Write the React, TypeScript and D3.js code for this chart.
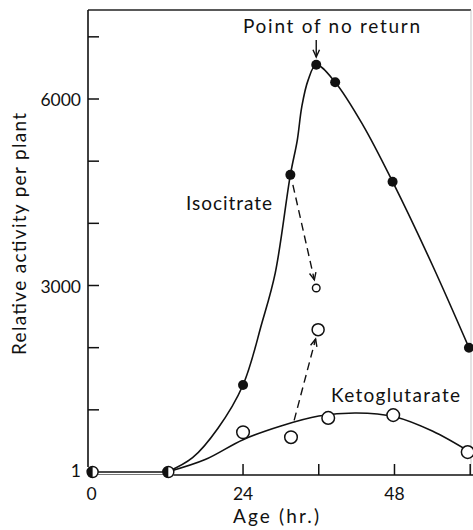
import React from "react";
import * as d3 from "d3";

// Age (hr.) and relative activity per plant
const baselineHours = [0, 12];
const baselineValues = [0, 0];

const isoHours = [24, 31.5, 35.6, 38.6, 47.7, 59.8];
const isoValues = [1400, 4780, 6550, 6270, 4670, 2000];

// smoothed isocitrate trend through the measured points
const isoFitHours = [12, 16, 20, 24, 27, 29.1, 31.5, 32.6, 33.3, 34.3, 35.6, 38.6, 43, 47.7, 54, 59.8];
const isoFitValues = [0, 230, 700, 1400, 2400, 3200, 4780, 5340, 5870, 6300, 6550, 6270, 5580, 4670, 3330, 2000];

const ketoHours = [24, 31.6, 37.5, 47.8, 59.6];
const ketoValues = [640, 560, 870, 915, 320];

// smoothed ketoglutarate trend
const ketoFitHours = [12, 18, 24, 30, 36, 42, 48, 54, 60];
const ketoFitValues = [0, 200, 520, 740, 900, 950, 890, 660, 320];

// transferred isocitrate activity
const transferHours = [35.6, 35.9];
const transferValues = [2960, 2290];

const yTickValues = [1000, 2000, 3000, 4000, 5000, 6000, 7000];
const yTickLabels = ["3000", "6000"];
const xTickValues = [24, 36, 48, 60];
const xTickLabels = ["24", "48"];

const W = 473;
const H = 530;
const FONT = "Lato, 'Open Sans', sans-serif";

export default function App() {
  const x = d3.scaleLinear().domain([0, 60]).range([91.6, 470.2]);
  const y = d3.scaleLinear().domain([0, 6000]).range([472, 99]);
  const axisY = 475;
  const leftX = 88;
  const topY = 10;
  const rightX = 471;

  const line = d3
    .line<[number, number]>()
    .x((d) => x(d[0]))
    .y((d) => y(d[1]))
    .curve(d3.curveCatmullRom.alpha(0.5));

  const isoPath = line(
    isoFitHours.map((h, i) => [h, isoFitValues[i]] as [number, number])
  );
  const ketoPath = line(
    ketoFitHours.map((h, i) => [h, ketoFitValues[i]] as [number, number])
  );
  const basePath = d3
    .line<[number, number]>()
    .x((d) => x(d[0]))
    .y((d) => y(d[1]))(
    baselineHours.map((h, i) => [h, baselineValues[i]] as [number, number])
  );

  const arrows = [
    { from: [31.9, 4620], to: [35.3, 3090] },
    { from: [32.1, 830], to: [35.5, 2140] },
  ];

  const arrowHead = (x1: number, y1: number, x2: number, y2: number) => {
    const a = Math.atan2(y2 - y1, x2 - x1);
    const len = 8;
    const spread = 0.42;
    const p1 = [x2 - len * Math.cos(a - spread), y2 - len * Math.sin(a - spread)];
    const p2 = [x2 - len * Math.cos(a + spread), y2 - len * Math.sin(a + spread)];
    return `M${p1[0]},${p1[1]}L${x2},${y2}L${p2[0]},${p2[1]}`;
  };

  const halfCircle = (cx: number, cy: number, r: number) =>
    `M${cx},${cy - r}A${r},${r} 0 0 0 ${cx},${cy + r}Z`;

  return (
    <svg
      width={W}
      height={H}
      style={{ position: "absolute", left: 0, top: 0, background: "#fff" }}
      fontFamily={FONT}
    >
      {/* frame */}
      <line x1={leftX} y1={topY} x2={rightX} y2={topY} stroke="#222" strokeWidth={1.6} />
      <line x1={rightX} y1={topY} x2={rightX} y2={axisY} stroke="#bbb" strokeWidth={0.8} />
      <line x1={leftX} y1={topY} x2={leftX} y2={467} stroke="#111" strokeWidth={1.6} />
      <line x1={x(12) + 6} y1={axisY} x2={W} y2={axisY} stroke="#111" strokeWidth={1.6} />

      {/* y ticks */}
      {yTickValues.map((v) => (
        <line key={v} x1={leftX} x2={leftX + 11} y1={y(v)} y2={y(v)} stroke="#111" strokeWidth={1.5} />
      ))}
      {yTickLabels.map((t) => (
        <text key={t} x={81} y={y(+t) + 7} textAnchor="end" fontSize={17.5} fill="#111">
          {t}
        </text>
      ))}
      <text x={81} y={477} textAnchor="end" fontSize={17.5} fill="#111">1</text>

      {/* x ticks */}
      {xTickValues.map((v) => (
        <line key={v} x1={x(v)} x2={x(v)} y1={axisY} y2={axisY - 11} stroke="#111" strokeWidth={1.5} />
      ))}
      {xTickLabels.map((t) => (
        <text key={t} x={x(+t)} y={500} textAnchor="middle" fontSize={17.5} fill="#111">
          {t}
        </text>
      ))}
      <text x={x(0)} y={500} textAnchor="middle" fontSize={17.5} fill="#111">0</text>

      <text x={276} y={523} textAnchor="middle" fontSize={19} fill="#111" textLength={86} lengthAdjust="spacing">
        Age (hr.)
      </text>
      <text
        transform="translate(26,234) rotate(-90)"
        textAnchor="middle"
        fontSize={19}
        fill="#111"
        textLength={242}
        lengthAdjust="spacing"
      >
        Relative activity per plant
      </text>

      {/* baseline (double line) */}
      <path d={basePath ?? ""} stroke="#111" strokeWidth={1.5} fill="none" />
      <path d={basePath ?? ""} transform="translate(0,2.5)" stroke="#777" strokeWidth={1} fill="none" />

      {/* curves */}
      <path d={isoPath ?? ""} stroke="#111" strokeWidth={1.6} fill="none" />
      <path d={ketoPath ?? ""} stroke="#111" strokeWidth={1.6} fill="none" />

      {/* dashed transfer arrows */}
      {arrows.map((a, i) => {
        const x1 = x(a.from[0]);
        const y1 = y(a.from[1]);
        const x2 = x(a.to[0]);
        const y2 = y(a.to[1]);
        return (
          <g key={i} stroke="#111" strokeWidth={1.4} fill="none">
            <line x1={x1} y1={y1} x2={x2} y2={y2} strokeDasharray="8,5" />
            <path d={arrowHead(x1, y1, x2, y2)} />
          </g>
        );
      })}

      {/* baseline half-filled markers */}
      {baselineHours.map((h, i) => {
        const cx = x(h) + 1;
        const cy = y(baselineValues[i]);
        return (
          <g key={h}>
            <circle cx={cx} cy={cy} r={5.5} fill="#fff" stroke="#111" strokeWidth={1.4} />
            <path d={halfCircle(cx, cy, 5.5)} fill="#111" />
          </g>
        );
      })}

      {/* isocitrate points */}
      {isoHours.map((h, i) => (
        <circle key={h} cx={x(h)} cy={y(isoValues[i])} r={5} fill="#111" />
      ))}

      {/* ketoglutarate points */}
      {ketoHours.map((h, i) => (
        <circle key={h} cx={x(h)} cy={y(ketoValues[i])} r={6.3} fill="#fff" stroke="#111" strokeWidth={1.5} />
      ))}

      {/* transferred points */}
      <circle cx={x(transferHours[0])} cy={y(transferValues[0])} r={3.8} fill="#fff" stroke="#111" strokeWidth={1.4} />
      <circle cx={x(transferHours[1])} cy={y(transferValues[1])} r={6} fill="#fff" stroke="#111" strokeWidth={1.5} />

      {/* annotations */}
      <text x={331.5} y={33} textAnchor="middle" fontSize={19} fill="#111" textLength={177} lengthAdjust="spacing">
        Point of no return
      </text>
      <g stroke="#111" strokeWidth={1.4} fill="none">
        <line x1={x(35.6)} y1={40} x2={x(35.6)} y2={57} />
        <path d={arrowHead(x(35.6), 40, x(35.6), 57)} />
      </g>
      <text x={186} y={210} fontSize={19} fill="#111" textLength={86} lengthAdjust="spacing">
        Isocitrate
      </text>
      <text x={331} y={402} fontSize={19} fill="#111" textLength={129} lengthAdjust="spacing">
        Ketoglutarate
      </text>
    </svg>
  );
}
